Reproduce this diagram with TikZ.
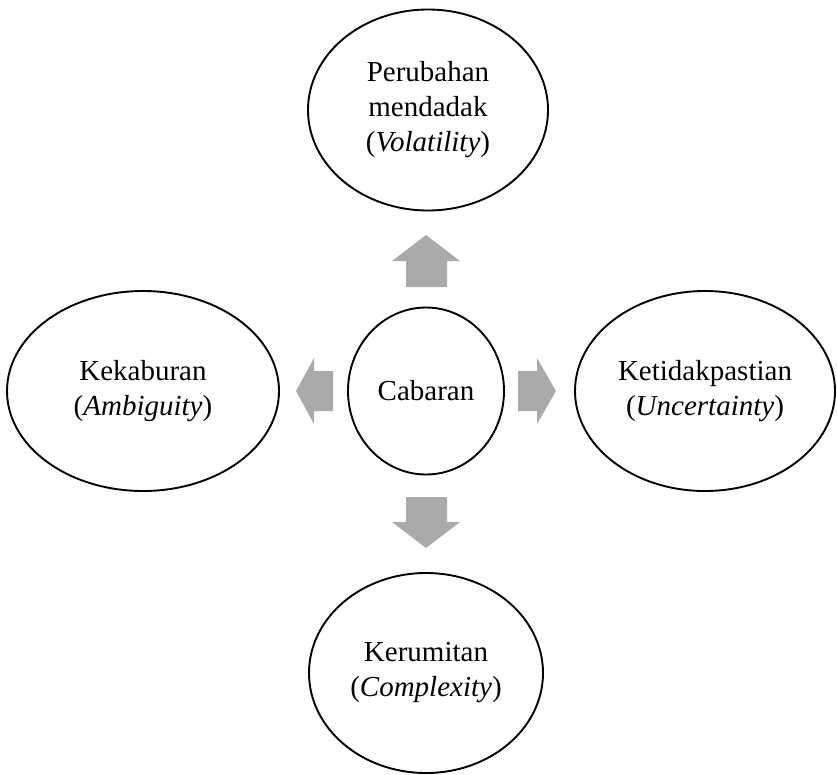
\documentclass[tikz,border=0pt]{standalone}
\usepackage{fontspec}
\setmainfont{Liberation Serif}
\usetikzlibrary{shapes.geometric}
\definecolor{arrowgray}{RGB}{170,170,170}

\begin{document}
\begin{tikzpicture}
  [x=1pt,y=-1pt,
   bubbleN/.style={ellipse,draw,line width=1.9pt,inner sep=0pt,align=center,
     font=\fontsize{29}{35}\selectfont},
   blockA/.style={fill=arrowgray}]

  \useasboundingbox (0,0) rectangle (837,774);

  \node[bubbleN,minimum width=156pt,minimum height=167pt] (center) at (426,391) {Cabaran};
  \node[bubbleN,minimum width=240pt,minimum height=201pt] (top)    at (428,110) {Perubahan\\mendadak\\(\textit{Volatility})};
  \node[bubbleN,minimum width=272pt,minimum height=200pt] (left)   at (143,391) {Kekaburan\\(\textit{Ambiguity})};
  \node[bubbleN,minimum width=260pt,minimum height=200pt] (right)  at (705,391) {Ketidakpastian\\(\textit{Uncertainty})};
  \node[bubbleN,minimum width=234pt,minimum height=200pt] (bottom) at (426,673) {Kerumitan\\(\textit{Complexity})};

  % block arrows
  \fill[blockA] (406,287) -- (447,287) -- (447,261) -- (460,261) -- (426,235) -- (392,261) -- (406,261) -- cycle;
  \fill[blockA] (406,497) -- (447,497) -- (447,522) -- (460,522) -- (426,548) -- (392,522) -- (406,522) -- cycle;
  \fill[blockA] (333,371) -- (333,411) -- (314,411) -- (314,424) -- (296,391) -- (314,358) -- (314,371) -- cycle;
  \fill[blockA] (518,371) -- (537,371) -- (537,358) -- (556,391) -- (537,424) -- (537,411) -- (518,411) -- cycle;

\end{tikzpicture}
\end{document}
